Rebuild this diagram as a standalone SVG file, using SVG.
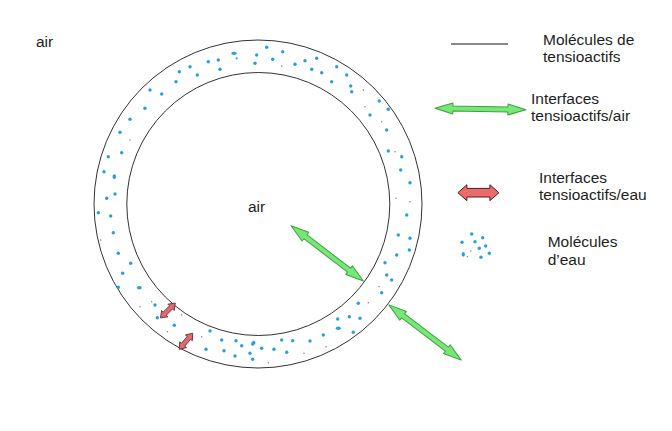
<svg xmlns="http://www.w3.org/2000/svg" xmlns:xlink="http://www.w3.org/1999/xlink" width="672" height="431" viewBox="0 0 672 431">
<style>
text{font-family:"Liberation Sans",Arial,sans-serif;font-size:15.5px;fill:#1e1e1e}
.ring{fill:none;stroke:#333;stroke-width:1}
.w{fill:#2b9fd4}
.t{fill:#777}
.g{fill:#77e777;stroke:#3f9f3f;stroke-width:1;stroke-linejoin:round}
.r{fill:#ec6a6a;stroke:#4a1f1f;stroke-width:1;stroke-linejoin:round}
.rs{fill:#e06a72;stroke:#5a2a2a;stroke-width:0.8;stroke-linejoin:round}
</style>
<defs>
<path id="ga" d="M-45.5,0 L-27.5,-5.5 L-27.5,-2.5 L27.5,-2.5 L27.5,-5.5 L45.5,0 L27.5,5.5 L27.5,2.5 L-27.5,2.5 L-27.5,5.5 Z"/>
<path id="ra" d="M-20.5,0 L-11.5,-8 L-11.5,-4.3 L11.5,-4.3 L11.5,-8 L20.5,0 L11.5,8 L11.5,4.3 L-11.5,4.3 L-11.5,8 Z"/>
<path id="rsa" d="M-10.5,0 L-4.5,-4.5 L-4.5,-2.2 L4.5,-2.2 L4.5,-4.5 L10.5,0 L4.5,4.5 L4.5,2.2 L-4.5,2.2 L-4.5,4.5 Z"/>
</defs>
<rect width="672" height="431" fill="#fff"/>
<g id="bubble">
<circle class="ring" cx="258" cy="204" r="164"/>
<circle class="ring" cx="258.3" cy="204" r="131.5"/>
</g>
<g id="water">
<ellipse class="w" cx="234" cy="53.3" rx="2.8" ry="1.6"/>
<circle class="w" cx="266.7" cy="47.3" r="1.7"/>
<circle class="w" cx="282.7" cy="51.7" r="1.7"/>
<circle class="w" cx="256.7" cy="55" r="1.7"/>
<circle class="w" cx="236.7" cy="58.3" r="1.1"/>
<circle class="w" cx="218.3" cy="60" r="1.7"/>
<circle class="w" cx="208.3" cy="61.7" r="1.7"/>
<circle class="w" cx="255" cy="63.3" r="1.7"/>
<circle class="w" cx="272.7" cy="59.3" r="1.7"/>
<circle class="w" cx="295" cy="64.3" r="1.7"/>
<circle class="w" cx="305" cy="60.7" r="1.7"/>
<circle class="w" cx="316.7" cy="58.3" r="1.7"/>
<circle class="w" cx="311.7" cy="69.3" r="1.7"/>
<circle class="w" cx="321.7" cy="72.7" r="1.7"/>
<circle class="w" cx="336.7" cy="66.7" r="1.7"/>
<circle class="w" cx="346.7" cy="75" r="1.7"/>
<circle class="w" cx="331.7" cy="81.7" r="1.7"/>
<circle class="w" cx="350.7" cy="86" r="1.7"/>
<circle class="w" cx="351.7" cy="91.7" r="1.7"/>
<circle class="w" cx="190" cy="66.7" r="1.7"/>
<circle class="w" cx="179.3" cy="71.7" r="1.7"/>
<circle class="w" cx="197.3" cy="75" r="1.7"/>
<circle class="w" cx="220" cy="69.3" r="1.7"/>
<circle class="w" cx="176" cy="81.7" r="1.7"/>
<circle class="w" cx="150" cy="90" r="1.7"/>
<circle class="w" cx="161.7" cy="94" r="1.7"/>
<circle class="w" cx="145" cy="108.3" r="1.7"/>
<circle class="w" cx="130" cy="119.3" r="1.7"/>
<circle class="w" cx="120" cy="132.3" r="1.7"/>
<circle class="w" cx="121.7" cy="152.7" r="1.7"/>
<circle class="w" cx="108.3" cy="156.7" r="1.7"/>
<circle class="w" cx="104" cy="171.7" r="1.7"/>
<ellipse class="w" cx="114.3" cy="176.7" rx="1.8" ry="2.4"/>
<circle class="w" cx="115" cy="194" r="1.7"/>
<circle class="w" cx="106.7" cy="198.3" r="1.7"/>
<circle class="w" cx="98.3" cy="212.7" r="1.7"/>
<circle class="w" cx="110.7" cy="216" r="1.7"/>
<circle class="w" cx="113.3" cy="232.7" r="1.7"/>
<circle class="w" cx="118.3" cy="253.3" r="1.7"/>
<circle class="w" cx="130.7" cy="263.3" r="1.7"/>
<circle class="w" cx="122.7" cy="273.3" r="1.7"/>
<circle class="w" cx="118.3" cy="287.3" r="1.7"/>
<ellipse class="w" cx="139.3" cy="287.7" rx="2.4" ry="1.7"/>
<circle class="w" cx="155" cy="305" r="1.7"/>
<circle class="w" cx="157.3" cy="317.7" r="1.7"/>
<circle class="w" cx="174.3" cy="325.3" r="1.7"/>
<circle class="w" cx="210" cy="331" r="1.7"/>
<circle class="w" cx="221.7" cy="340" r="1.7"/>
<circle class="w" cx="206" cy="349.3" r="1.7"/>
<circle class="w" cx="224" cy="350.7" r="1.7"/>
<circle class="w" cx="235" cy="356" r="1.7"/>
<circle class="w" cx="236" cy="340.7" r="1.7"/>
<circle class="w" cx="241.7" cy="345.7" r="1.7"/>
<ellipse class="w" cx="253.3" cy="343.3" rx="1.8" ry="2.6" transform="rotate(35 253.3 343.3)"/>
<circle class="w" cx="250" cy="353.3" r="1.7"/>
<circle class="w" cx="252.7" cy="359.3" r="1.7"/>
<circle class="w" cx="261.7" cy="348.3" r="1.7"/>
<circle class="w" cx="274" cy="349.3" r="1.7"/>
<circle class="w" cx="281.7" cy="340" r="1.7"/>
<circle class="w" cx="286.7" cy="352.3" r="1.7"/>
<circle class="w" cx="292.7" cy="340.7" r="1.7"/>
<circle class="w" cx="310" cy="341" r="1.7"/>
<circle class="w" cx="323.3" cy="335" r="1.7"/>
<ellipse class="w" cx="338.3" cy="328.3" rx="2.5" ry="1.7"/>
<circle class="w" cx="337.7" cy="319" r="1.7"/>
<circle class="w" cx="349.3" cy="316.7" r="1.7"/>
<circle class="w" cx="360" cy="318.3" r="1.7"/>
<circle class="w" cx="353.3" cy="332.3" r="1.7"/>
<circle class="w" cx="358.3" cy="303.3" r="1.7"/>
<circle class="w" cx="381.7" cy="292.7" r="1.7"/>
<circle class="w" cx="386.7" cy="275" r="1.7"/>
<circle class="w" cx="391.7" cy="280" r="1.7"/>
<circle class="w" cx="385" cy="262.7" r="1.7"/>
<circle class="w" cx="396.7" cy="255" r="1.7"/>
<circle class="w" cx="409.3" cy="250" r="1.7"/>
<circle class="w" cx="398.3" cy="235" r="1.7"/>
<circle class="w" cx="410" cy="238.3" r="1.7"/>
<circle class="w" cx="406.7" cy="215" r="1.7"/>
<circle class="w" cx="410" cy="182.7" r="1.7"/>
<circle class="w" cx="400.7" cy="170" r="1.7"/>
<circle class="w" cx="401.7" cy="156.7" r="1.7"/>
<circle class="w" cx="388.3" cy="151" r="1.7"/>
<circle class="w" cx="386.7" cy="130" r="1.7"/>
<circle class="w" cx="388.3" cy="109.3" r="1.7"/>
<circle class="w" cx="379.3" cy="101" r="1.7"/>
<circle class="w" cx="370" cy="115" r="1.7"/>
<circle class="t" cx="281.7" cy="66" r="0.7"/>
<circle class="t" cx="363.3" cy="90" r="0.7"/>
<circle class="t" cx="130" cy="140" r="0.7"/>
<circle class="t" cx="100.7" cy="240" r="0.7"/>
<circle class="t" cx="140" cy="306.7" r="0.7"/>
<circle class="t" cx="151.7" cy="301.7" r="0.7"/>
<circle class="t" cx="167.3" cy="331.7" r="0.7"/>
<circle class="t" cx="181.7" cy="315" r="0.7"/>
<circle class="t" cx="201.7" cy="336.7" r="0.7"/>
<circle class="t" cx="268.3" cy="362.7" r="0.7"/>
<circle class="t" cx="304" cy="353.3" r="0.7"/>
<circle class="t" cx="326" cy="346.7" r="0.7"/>
<circle class="t" cx="368.3" cy="302.7" r="0.7"/>
<circle class="t" cx="379" cy="286.7" r="0.7"/>
<circle class="t" cx="396" cy="198.3" r="0.7"/>
<circle class="t" cx="410" cy="201.7" r="0.7"/>
<circle class="t" cx="395" cy="151.7" r="0.7"/>
<circle class="t" cx="381.7" cy="121.7" r="0.7"/>
<circle class="t" cx="365" cy="106.7" r="0.7"/>
</g>
<g id="connectors">
<use xlink:href="#ga" class="g" transform="translate(327.2 253.4) rotate(37.4)"/>
<use xlink:href="#ga" class="g" transform="translate(425 332.5) rotate(37.4)"/>
<use xlink:href="#rsa" class="rs" transform="translate(167.9 310.5) rotate(-45.2)"/>
<use xlink:href="#rsa" class="rs" transform="translate(186 341.3) rotate(-50)"/>
</g>
<g id="labels">
<text x="36" y="47">air</text>
<text x="248" y="212">air</text>
</g>
<g id="legend-surfactant">
<line x1="451" y1="44" x2="508" y2="44" stroke="#111" stroke-width="1"/>
<text x="543" y="44.5">Molécules de</text>
<text x="543" y="61.5">tensioactifs</text>
</g>
<g id="legend-air">
<use xlink:href="#ga" class="g" transform="translate(480.4 109) rotate(0.9)"/>
<text x="531" y="104">Interfaces</text>
<text x="531" y="121">tensioactifs/air</text>
</g>
<g id="legend-water-interface">
<use xlink:href="#ra" class="r" transform="translate(478.4 192.7)"/>
<text x="539" y="182.5">Interfaces</text>
<text x="539" y="200">tensioactifs/eau</text>
</g>
<g id="legend-water">
<circle class="w" cx="471.7" cy="234" r="1.7"/>
<circle class="w" cx="482.7" cy="237.7" r="1.7"/>
<circle class="w" cx="462" cy="242.3" r="1.7"/>
<circle class="w" cx="475" cy="241.7" r="1.7"/>
<circle class="w" cx="485.7" cy="246" r="1.7"/>
<circle class="w" cx="479.3" cy="248.3" r="1.7"/>
<circle class="t" cx="470.7" cy="251" r="0.7"/>
<ellipse class="w" cx="463.3" cy="254.3" rx="1.6" ry="2.4"/>
<circle class="w" cx="489.3" cy="253.3" r="1.7"/>
<circle class="w" cx="481" cy="257.3" r="1.7"/>
<circle class="t" cx="467.3" cy="256.7" r="0.7"/>
<text x="547.7" y="247">Molécules</text>
<text x="547.7" y="265">d’eau</text>
</g>
</svg>
